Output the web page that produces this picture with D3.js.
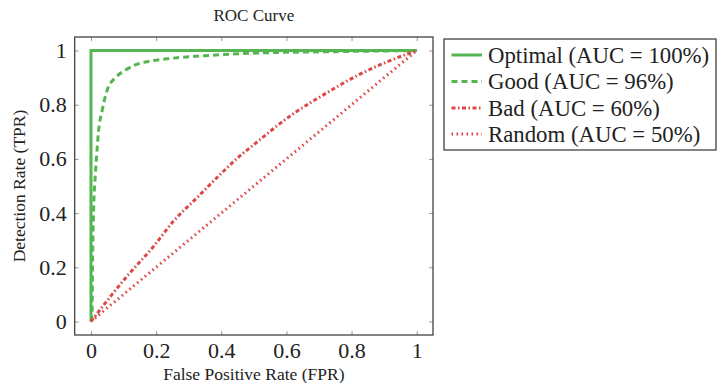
<!DOCTYPE html>
<html>
<head>
<meta charset="utf-8">
<script src="https://cdn.jsdelivr.net/npm/d3@7"></script>
<style>
    html, body { margin: 0; padding: 0; background: #fff; }
    svg { display: block; }
    svg text { font-family: "Liberation Serif", "DejaVu Serif", serif !important; fill: #222; }
</style>
</head>
<body>
<div id="chart"></div>
<script>
// data
const xTicks = [0, 0.2, 0.4, 0.6, 0.8, 1];
const yTicks = [0, 0.2, 0.4, 0.6, 0.8, 1];

const optimalFpr = [0, 0, 1];
const optimalTpr = [0, 1, 1];

const goodFpr = [0, 0.003, 0.005, 0.008, 0.013, 0.018, 0.023, 0.034, 0.049, 0.075, 0.105, 0.136, 0.187, 0.253, 0.35, 0.49, 0.75, 1];
const goodTpr = [0, 0.02, 0.24, 0.413, 0.536, 0.623, 0.7, 0.777, 0.851, 0.9, 0.927, 0.947, 0.962, 0.972, 0.981, 0.99, 0.996, 1];

const badFpr = [0, 0.11, 0.192, 0.253, 0.325, 0.397, 0.463, 0.494, 0.611, 0.734, 0.826, 0.908, 1];
const badTpr = [0, 0.166, 0.277, 0.37, 0.456, 0.543, 0.617, 0.647, 0.758, 0.851, 0.913, 0.958, 1];

const randomFpr = [0, 1];
const randomTpr = [0, 1];

const seriesLabels = ['Optimal (AUC = 100%)', 'Good (AUC = 96%)', 'Bad (AUC = 60%)', 'Random (AUC = 50%)'];

const green = '#55b550';
const red = '#dc4747';
const serif = '"Liberation Serif", "DejaVu Serif", serif';

const series = [
    { label: seriesLabels[0], fpr: optimalFpr, tpr: optimalTpr, color: green, dash: null, curve: d3.curveLinear },
    { label: seriesLabels[1], fpr: goodFpr, tpr: goodTpr, color: green, dash: '6,4', curve: d3.curveMonotoneX },
    { label: seriesLabels[2], fpr: badFpr, tpr: badTpr, color: red, dash: '4,2.5,1.5,2.5', curve: d3.curveMonotoneX },
    { label: seriesLabels[3], fpr: randomFpr, tpr: randomTpr, color: red, dash: '1.6,3.4', curve: d3.curveLinear }
];

const width = 720;
const height = 383;

// plot box
const box = { left: 74.7, right: 433, top: 37, bottom: 335 };

const svg = d3.select('#chart')
    .append('svg')
    .attr('width', width)
    .attr('height', height)
    .attr('font-family', serif);

const xScale = d3.scaleLinear()
    .domain([-0.05, 1.05])
    .range([box.left, box.right]);

const yScale = d3.scaleLinear()
    .domain([-0.05, 1.05])
    .range([box.bottom, box.top]);

const fmt = d => d === 0 || d === 1 ? String(d) : d.toFixed(1);

// axes, ticks pointing inward
const xAxis = svg.append('g')
    .attr('transform', `translate(0,${box.bottom})`)
    .call(d3.axisBottom(xScale).tickValues(xTicks).tickSize(-4).tickPadding(7).tickFormat(fmt));

const yAxis = svg.append('g')
    .attr('transform', `translate(${box.left},0)`)
    .call(d3.axisLeft(yScale).tickValues(yTicks).tickSize(-4).tickPadding(8).tickFormat(fmt));

const topAxis = svg.append('g')
    .attr('transform', `translate(0,${box.top})`)
    .call(d3.axisTop(xScale).tickValues(xTicks).tickSize(-4).tickFormat(''));

const rightAxis = svg.append('g')
    .attr('transform', `translate(${box.right},0)`)
    .call(d3.axisRight(yScale).tickValues(yTicks).tickSize(-4).tickFormat(''));

[xAxis, yAxis, topAxis, rightAxis].forEach(a => {
    a.attr('font-family', serif).attr('font-size', 22);
    a.select('.domain').remove();
    a.selectAll('.tick line').attr('stroke', '#999').attr('stroke-width', 1);
    a.selectAll('.tick text')
        .attr('font-family', serif)
        .attr('fill', '#222');
});

// frame
svg.append('rect')
    .attr('x', box.left)
    .attr('y', box.top)
    .attr('width', box.right - box.left)
    .attr('height', box.bottom - box.top)
    .attr('fill', 'none')
    .attr('stroke', '#333')
    .attr('stroke-width', 1.2);

// curves
series.forEach(s => {
    const pts = s.fpr.map((x, i) => [x, s.tpr[i]]);
    const line = d3.line()
        .curve(s.curve)
        .x(d => xScale(d[0]))
        .y(d => yScale(d[1]));

    svg.append('path')
        .attr('d', line(pts))
        .attr('fill', 'none')
        .attr('stroke', s.color)
        .attr('stroke-width', 3)
        .attr('stroke-dasharray', s.dash)
        .attr('stroke-linejoin', 'miter');
});

// title and axis labels
svg.append('text')
    .attr('x', (box.left + box.right) / 2)
    .attr('y', 21)
    .attr('text-anchor', 'middle')
    .attr('font-size', 17)
    .text('ROC Curve');

svg.append('text')
    .attr('x', (box.left + box.right) / 2)
    .attr('y', 380)
    .attr('text-anchor', 'middle')
    .attr('font-size', 17.5)
    .text('False Positive Rate (FPR)');

svg.append('text')
    .attr('transform', `translate(25,${(box.top + box.bottom) / 2}) rotate(-90)`)
    .attr('text-anchor', 'middle')
    .attr('font-size', 17.5)
    .text('Detection Rate (TPR)');

// legend
const legend = svg.append('g').attr('class', 'legend');

legend.append('rect')
    .attr('x', 444)
    .attr('y', 39)
    .attr('width', 272)
    .attr('height', 111)
    .attr('fill', '#fff')
    .attr('stroke', '#333')
    .attr('stroke-width', 1.2);

const rowY = [55, 81.5, 108, 134];

series.forEach((s, i) => {
    const y = rowY[i];
    legend.append('line')
        .attr('x1', 451.5)
        .attr('x2', 482)
        .attr('y1', y)
        .attr('y2', y)
        .attr('stroke', s.color)
        .attr('stroke-width', 3)
        .attr('stroke-dasharray', s.dash);

    legend.append('text')
        .attr('x', 488)
        .attr('y', y + 7.5)
        .attr('font-size', 22.8)
        .text(s.label);
});
</script>
</body>
</html>
